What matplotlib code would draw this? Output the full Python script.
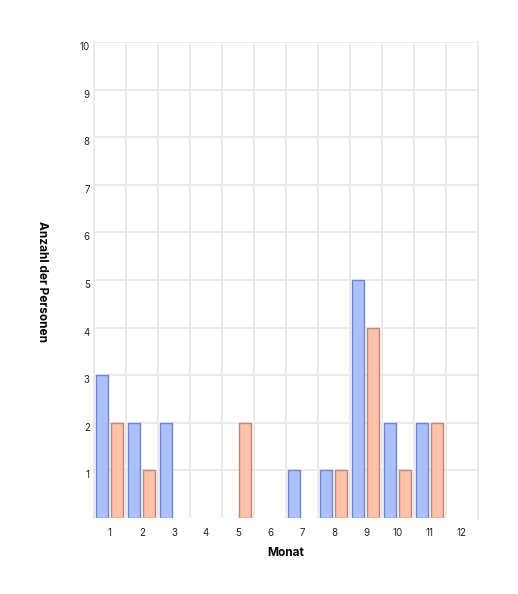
import matplotlib.pyplot as plt
import numpy as np

# Monthly counts for the two groups
months = ['1', '2', '3', '4', '5', '6', '7', '8', '9', '10', '11', '12']
group_a = [3, 2, 2, 0, 0, 0, 1, 1, 5, 2, 2, 0]
group_b = [2, 1, 0, 0, 2, 0, 0, 1, 4, 1, 2, 0]
y_ticks = [1, 2, 3, 4, 5, 6, 7, 8, 9, 10]

plt.rcParams['font.family'] = ['Inter', 'DejaVu Sans']

fig = plt.figure(figsize=(5.18, 5.94), dpi=100)
ax = fig.add_axes([94 / 518, 1 - 518 / 594, 384 / 518, 476 / 594])

x = np.arange(1, len(months) + 1)
a = np.array(group_a)
b = np.array(group_b)
w = 0.38
# skip empty months so no flat edge line shows up
ax.bar(x[a > 0] - 0.245, a[a > 0], width=w, color='#abc0ff', edgecolor='#7286c6', linewidth=1, zorder=3)
ax.bar(x[b > 0] + 0.225, b[b > 0], width=w, color='#ffc1a9', edgecolor='#b88a7c', linewidth=1, zorder=3)

ax.set_xlim(0.5, 12.5)
ax.set_ylim(0, 10)
ax.set_xticks(x)
ax.set_xticklabels(months)
ax.set_yticks(y_ticks)
ax.set_xticks(np.arange(0.5, 13.5, 1), minor=True)

ax.grid(False)
ax.grid(True, which='minor', axis='x', color='#ebebeb', linewidth=1.4, zorder=0)
ax.grid(True, which='major', axis='y', color='#ebebeb', linewidth=1.4, zorder=0)
ax.tick_params(which='both', length=0)
ax.tick_params(axis='x', labelsize=7, pad=7, colors='#222222')
ax.tick_params(axis='y', labelsize=7, pad=3, colors='#222222')
for lab in ax.get_yticklabels():
    lab.set_verticalalignment('top')

for s in ['top', 'bottom']:
    ax.spines[s].set_visible(False)
for s in ['left', 'right']:
    ax.spines[s].set_color('#ebebeb')
    ax.spines[s].set_linewidth(1.4)

ax.set_xlabel('Monat', fontsize=8.5, fontweight='bold', labelpad=7)
fig.text(42 / 518, 1 - 282 / 594, 'Anzahl der Personen', rotation=270,
         fontsize=8.5, fontweight='bold', ha='center', va='center')

fig.savefig('out.png', dpi=100)
